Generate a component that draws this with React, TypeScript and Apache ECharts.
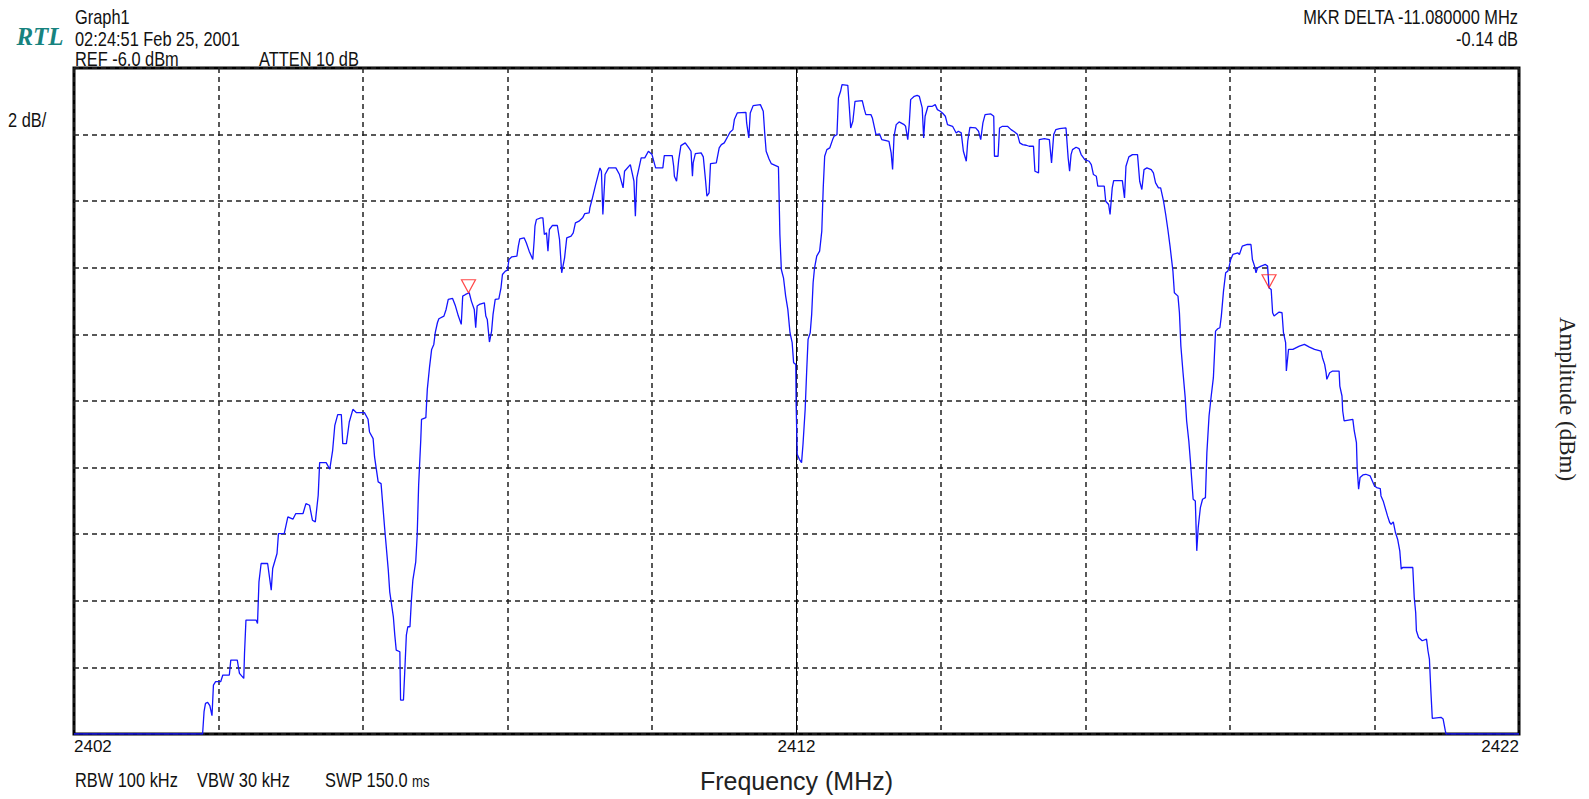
import React, { useEffect, useRef } from "react";
import * as echarts from "echarts";

// Frequency (MHz) and amplitude (dBm) of the trace
const freqMHz: number[] = [
  2402.0, 2403.78, 2403.8, 2403.82, 2403.85, 2403.88, 2403.91, 2403.93, 2403.96, 2404.03,
  2404.06, 2404.15, 2404.17, 2404.26, 2404.29, 2404.35, 2404.36, 2404.38, 2404.52, 2404.54,
  2404.56, 2404.59, 2404.68, 2404.73, 2404.75, 2404.81, 2404.83, 2404.91, 2404.96, 2405.03,
  2405.07, 2405.17, 2405.21, 2405.26, 2405.3, 2405.34, 2405.38, 2405.4, 2405.49, 2405.54,
  2405.58, 2405.61, 2405.65, 2405.7, 2405.72, 2405.77, 2405.81, 2405.86, 2405.91, 2406.02,
  2406.07, 2406.09, 2406.14, 2406.16, 2406.21, 2406.25, 2406.3, 2406.35, 2406.37, 2406.42,
  2406.44, 2406.46, 2406.51, 2406.52, 2406.56, 2406.58, 2406.6, 2406.62, 2406.65, 2406.67,
  2406.69, 2406.73, 2406.75, 2406.77, 2406.8, 2406.81, 2406.87, 2406.89, 2406.92, 2406.95,
  2406.98, 2407.0, 2407.03, 2407.05, 2407.12, 2407.15, 2407.18, 2407.24, 2407.28, 2407.32,
  2407.36, 2407.38, 2407.42, 2407.47, 2407.5, 2407.54, 2407.56, 2407.58, 2407.61, 2407.68,
  2407.7, 2407.72, 2407.75, 2407.78, 2407.8, 2407.83, 2407.88, 2407.91, 2407.93, 2407.97,
  2408.0, 2408.02, 2408.06, 2408.13, 2408.15, 2408.17, 2408.23, 2408.26, 2408.3, 2408.35,
  2408.37, 2408.38, 2408.4, 2408.46, 2408.49, 2408.51, 2408.54, 2408.56, 2408.58, 2408.62,
  2408.69, 2408.72, 2408.75, 2408.79, 2408.82, 2408.88, 2408.91, 2408.94, 2408.99, 2409.04,
  2409.07, 2409.13, 2409.14, 2409.17, 2409.22, 2409.28, 2409.3, 2409.32, 2409.35, 2409.4,
  2409.5, 2409.55, 2409.6, 2409.62, 2409.7, 2409.75, 2409.77, 2409.79, 2409.85, 2409.9,
  2409.95, 2410.0, 2410.05, 2410.1, 2410.15, 2410.17, 2410.28, 2410.3, 2410.31, 2410.34,
  2410.37, 2410.4, 2410.46, 2410.51, 2410.54, 2410.56, 2410.57, 2410.6, 2410.68, 2410.71,
  2410.74, 2410.76, 2410.79, 2410.81, 2410.89, 2410.93, 2410.96, 2411.0, 2411.05, 2411.08,
  2411.12, 2411.14, 2411.18, 2411.3, 2411.31, 2411.34, 2411.36, 2411.4, 2411.5, 2411.54,
  2411.56, 2411.58, 2411.62, 2411.65, 2411.75, 2411.76, 2411.77, 2411.79, 2411.82, 2411.85,
  2411.88, 2411.91, 2411.94, 2411.96, 2411.99, 2411.995, 2412.01, 2412.04, 2412.07, 2412.09,
  2412.12, 2412.14, 2412.16, 2412.19, 2412.21, 2412.23, 2412.25, 2412.28, 2412.32, 2412.35,
  2412.37, 2412.39, 2412.42, 2412.46, 2412.5, 2412.52, 2412.56, 2412.58, 2412.61, 2412.63,
  2412.71, 2412.73, 2412.75, 2412.78, 2412.81, 2412.91, 2412.94, 2412.96, 2413.03, 2413.05,
  2413.08, 2413.1, 2413.15, 2413.18, 2413.24, 2413.28, 2413.31, 2413.33, 2413.35, 2413.38,
  2413.42, 2413.49, 2413.51, 2413.54, 2413.56, 2413.58, 2413.63, 2413.67, 2413.7, 2413.74,
  2413.76, 2413.78, 2413.82, 2413.88, 2413.92, 2413.95, 2413.99, 2414.02, 2414.06, 2414.09,
  2414.16, 2414.21, 2414.24, 2414.28, 2414.31, 2414.35, 2414.37, 2414.4, 2414.48, 2414.52,
  2414.55, 2414.58, 2414.61, 2414.69, 2414.73, 2414.74, 2414.79, 2414.81, 2414.85, 2414.92,
  2414.97, 2415.02, 2415.06, 2415.09, 2415.13, 2415.18, 2415.22, 2415.28, 2415.3, 2415.35,
  2415.36, 2415.43, 2415.5, 2415.53, 2415.56, 2415.59, 2415.64, 2415.73, 2415.76, 2415.78,
  2415.8, 2415.82, 2415.87, 2415.91, 2415.94, 2415.99, 2416.05, 2416.08, 2416.11, 2416.15,
  2416.17, 2416.26, 2416.28, 2416.32, 2416.34, 2416.37, 2416.39, 2416.51, 2416.54, 2416.56,
  2416.6, 2416.65, 2416.72, 2416.75, 2416.78, 2416.81, 2416.85, 2416.91, 2416.94, 2416.97,
  2417.01, 2417.04, 2417.08, 2417.11, 2417.14, 2417.17, 2417.21, 2417.23, 2417.28, 2417.3,
  2417.32, 2417.35, 2417.38, 2417.4, 2417.43, 2417.45, 2417.47, 2417.49, 2417.52, 2417.53,
  2417.54, 2417.56, 2417.59, 2417.62, 2417.66, 2417.68, 2417.71, 2417.74, 2417.77, 2417.8,
  2417.83, 2417.86, 2417.88, 2417.91, 2417.94, 2417.97, 2417.99, 2418.01, 2418.04, 2418.11,
  2418.13, 2418.17, 2418.24, 2418.29, 2418.31, 2418.34, 2418.36, 2418.38, 2418.43, 2418.49,
  2418.52, 2418.54, 2418.57, 2418.59, 2418.61, 2418.68, 2418.72, 2418.74, 2418.77, 2418.78,
  2418.81, 2418.87, 2418.96, 2419.03, 2419.1, 2419.17, 2419.26, 2419.28, 2419.31, 2419.33,
  2419.34, 2419.38, 2419.42, 2419.51, 2419.52, 2419.55, 2419.56, 2419.58, 2419.7, 2419.72,
  2419.75, 2419.76, 2419.78, 2419.8, 2419.84, 2419.88, 2419.94, 2419.97, 2420.0, 2420.03,
  2420.08, 2420.09, 2420.12, 2420.16, 2420.18, 2420.21, 2420.23, 2420.26, 2420.29, 2420.32,
  2420.35, 2420.37, 2420.39, 2420.53, 2420.55, 2420.57, 2420.58, 2420.61, 2420.66, 2420.72,
  2420.74, 2420.76, 2420.78, 2420.8, 2420.92, 2420.95, 2420.98, 2420.99, 2422.0,
];

const levelDbm: number[] = [
  -26, -26, -25.33, -25.08, -25.05, -25.15, -25.45, -24.53, -24.43, -24.43,
  -24.23, -24.23, -23.78, -23.78, -24.18, -24.33, -23.58, -22.58, -22.58, -22.68,
  -21.43, -20.88, -20.88, -21.68, -21.03, -20.58, -19.98, -19.98, -19.48, -19.55,
  -19.38, -19.38, -19.08, -19.13, -19.58, -19.63, -18.83, -17.85, -17.85, -18.05,
  -17.48, -16.73, -16.41, -16.41, -17.28, -17.28, -16.63, -16.25, -16.35, -16.35,
  -16.55, -16.93, -17.13, -17.68, -18.43, -18.48, -19.83, -21.08, -21.73, -22.48,
  -23.03, -23.48, -23.53, -24.98, -24.98, -24.03, -23.03, -22.78, -22.78, -21.98,
  -21.38, -20.83, -20.03, -18.53, -17.15, -16.55, -16.5, -15.65, -15.0, -14.45,
  -14.3, -13.95, -13.65, -13.53, -13.45, -13.25, -12.95, -12.92, -13.15, -13.45,
  -13.7, -12.85, -12.8, -12.75, -13.0, -13.25, -13.8, -13.15, -13.1, -13.05,
  -13.45, -13.55, -14.23, -13.9, -13.4, -12.95, -12.93, -12.6, -12.2, -12.1,
  -12.07, -11.75, -11.67, -11.65, -11.35, -11.13, -11.1, -11.25, -11.5, -11.75,
  -11.15, -10.75, -10.55, -10.5, -10.5, -11.0, -10.95, -11.5, -10.85, -10.73,
  -10.73, -11.15, -12.15, -11.7, -11.1, -11.05, -10.95, -10.65, -10.6, -10.5,
  -10.37, -10.35, -10.2, -9.95, -9.5, -9.0, -9.1, -10.4, -9.2, -9.0,
  -9.0, -9.2, -9.6, -9.1, -8.9, -9.4, -10.45, -9.3, -8.7, -8.7,
  -8.5, -8.6, -9.0, -9.0, -9.0, -8.63, -8.63, -8.95, -9.25, -9.4,
  -8.75, -8.33, -8.25, -8.4, -8.5, -9.25, -8.85, -8.57, -8.55, -8.67,
  -9.35, -9.85, -9.75, -8.87, -8.85, -8.4, -8.3, -8.25, -8.05, -7.93,
  -7.85, -7.55, -7.35, -7.33, -7.65, -8.1, -7.35, -7.13, -7.1, -7.3,
  -7.95, -8.5, -8.73, -8.87, -8.97, -9.95, -11.0, -12.05, -12.3, -12.85,
  -13.25, -13.95, -14.25, -14.85, -14.9, -16.1, -17.6, -17.75, -17.85, -17.3,
  -16.25, -15.15, -14.15, -13.95, -13.4, -12.45, -12.0, -11.65, -11.5, -10.9,
  -9.6, -8.65, -8.45, -8.4, -8.15, -8.05, -8.0, -6.9, -6.7, -6.5,
  -6.52, -7.15, -7.8, -7.6, -7.0, -6.98, -7.25, -7.4, -7.4, -7.5,
  -7.8, -8.0, -7.98, -8.15, -8.18, -8.2, -8.55, -9.05, -8.05, -7.7,
  -7.62, -7.7, -7.75, -8.15, -7.7, -6.95, -6.85, -6.82, -6.85, -7.2,
  -8.1, -7.45, -7.15, -7.15, -7.1, -7.25, -7.3, -7.35, -7.45, -7.7,
  -7.75, -7.95, -7.9, -7.95, -8.5, -8.8, -8.2, -7.78, -7.8, -7.9,
  -8.15, -7.65, -7.4, -7.38, -7.45, -8.65, -8.65, -7.8, -7.75, -7.75,
  -7.85, -7.92, -8.0, -8.25, -8.3, -8.32, -8.35, -8.35, -9.1, -9.15,
  -8.15, -8.12, -8.15, -8.85, -8.0, -7.85, -7.82, -7.8, -8.7, -9.1,
  -8.6, -8.45, -8.38, -8.42, -8.6, -8.75, -8.8, -8.9, -9.2, -9.25,
  -9.55, -9.55, -10.0, -10.1, -10.4, -9.6, -9.38, -9.38, -9.9, -8.95,
  -8.67, -8.6, -8.6, -9.4, -9.65, -9.05, -9.0, -9.05, -9.15, -9.45,
  -9.6, -9.6, -10.0, -10.4, -10.85, -11.35, -12.1, -12.75, -12.85, -13.35,
  -14.35, -15.15, -15.9, -16.6, -17.2, -17.75, -18.35, -18.95, -19.0, -19.75,
  -20.5, -19.8, -19.2, -18.95, -18.9, -17.55, -16.45, -15.85, -15.3, -13.9,
  -13.83, -13.8, -13.45, -12.7, -12.15, -12.1, -11.95, -11.75, -11.6, -11.55,
  -11.6, -11.35, -11.3, -11.3, -11.75, -11.95, -12.15, -12.0, -11.95, -11.9,
  -11.95, -12.6, -12.65, -13.35, -13.45, -13.33, -13.35, -13.95, -14.25, -15.1,
  -14.45, -14.45, -14.35, -14.3, -14.38, -14.45, -14.5, -14.7, -14.9, -15.15,
  -15.35, -15.15, -15.1, -15.1, -15.55, -15.85, -16.3, -16.6, -16.55, -16.9,
  -17.25, -18.0, -18.65, -18.3, -18.22, -18.2, -18.25, -18.4, -18.55, -18.6,
  -18.63, -18.85, -19.0, -19.3, -19.45, -19.65, -19.7, -19.63, -19.95, -20.15,
  -20.5, -21.05, -21.0, -21.0, -21.9, -22.35, -22.9, -23.1, -23.2, -23.15,
  -23.5, -23.75, -24.7, -25.53, -25.5, -25.55, -25.9, -26.0, -26.0,
];

// Marker positions (MHz, dBm)
const markerFreq: number[] = [2407.46, 2418.54];
const markerLevel: number[] = [-12.75, -12.6];

// Axis settings and labels
const xMin = 2402;
const xMax = 2422;
const xStep = 2;
const xTickLabels: number[] = [2402, 2412, 2422];
const centerFreq = 2412;
const yMin = -26;
const yMax = -6;
const yStep = 2;

const SANS = "'Liberation Sans', Arial, sans-serif";
const SERIF = "'Liberation Serif', 'Times New Roman', serif";
const NARROW = 0.82;

export default function App() {
  const ref = useRef<HTMLDivElement>(null);

  useEffect(() => {
    if (!ref.current) return;
    const chart = echarts.init(ref.current, undefined, { renderer: "svg" });
    const traceData = freqMHz.map((f, i) => [f, levelDbm[i]]);
    const markerData = markerFreq.map((f, i) => [f, markerLevel[i]]);

    const txt = (
      text: string,
      x: number,
      y: number,
      size: number,
      align: string = "left"
    ) => ({
      type: "text",
      x,
      y,
      scaleX: NARROW,
      silent: true,
      z: 10,
      style: {
        text,
        fontFamily: SANS,
        fontSize: size,
        fill: "#111",
        textAlign: align,
        align,
        textVerticalAlign: "middle",
        verticalAlign: "middle",
      },
    });

    chart.setOption({
      animation: false,
      backgroundColor: "#ffffff",
      grid: {
        left: 74,
        right: 70,
        top: 68,
        bottom: 65,
        show: true,
        borderColor: "#000",
        borderWidth: 3,
        backgroundColor: "transparent",
      },
      xAxis: {
        type: "value",
        min: xMin,
        max: xMax,
        interval: xStep,
        name: "Frequency (MHz)",
        nameLocation: "middle",
        nameGap: 34,
        nameTextStyle: { fontFamily: SANS, fontSize: 25, color: "#222" },
        axisLine: { show: false },
        axisTick: { show: false },
        splitLine: {
          show: true,
          lineStyle: { color: "#222", type: [5, 4], width: 1.5 },
        },
        axisLabel: {
          show: true,
          showMinLabel: true,
          showMaxLabel: true,
          hideOverlap: false,
          alignMinLabel: "left",
          alignMaxLabel: "right",
          margin: 4,
          fontFamily: SANS,
          fontSize: 17,
          color: "#111",
          formatter: (v: number) =>
            xTickLabels.indexOf(Math.round(v)) >= 0 ? String(Math.round(v)) : "",
        },
      },
      yAxis: {
        type: "value",
        min: yMin,
        max: yMax,
        interval: yStep,
        axisLine: { show: false },
        axisTick: { show: false },
        axisLabel: { show: false },
        splitLine: {
          show: true,
          lineStyle: { color: "#222", type: [5, 4], width: 1.5 },
        },
      },
      series: [
        {
          type: "line",
          data: traceData,
          showSymbol: false,
          symbol: "none",
          lineStyle: { color: "#1414ff", width: 1.3 },
          z: 5,
          markLine: {
            silent: true,
            symbol: "none",
            label: { show: false },
            lineStyle: { color: "#000", type: "solid", width: 1 },
            data: [{ xAxis: centerFreq }],
            z: 3,
          },
        },
        {
          type: "scatter",
          data: markerData,
          symbol: "triangle",
          symbolRotate: 180,
          symbolSize: [14, 13],
          symbolOffset: [0, -6.5],
          itemStyle: { color: "rgba(0,0,0,0)", borderColor: "#ff1a1a", borderWidth: 1.2 },
          z: 6,
        },
      ],
      graphic: [
        {
          type: "text",
          x: 40,
          y: 36,
          silent: true,
          style: {
            text: "RTL",
            fontFamily: SERIF,
            fontSize: 25,
            fontStyle: "italic",
            fontWeight: "bold",
            fill: "#17837f",
            textAlign: "center",
            align: "center",
            textVerticalAlign: "middle",
            verticalAlign: "middle",
          },
        },
        txt("Graph1", 75, 16.5, 20),
        txt("02:24:51 Feb 25, 2001", 75, 38.5, 20),
        txt("REF -6.0 dBm", 75, 58.5, 20),
        txt("ATTEN 10 dB", 259, 58.5, 20),
        txt("MKR DELTA -11.080000 MHz", 1518, 16.5, 20, "right"),
        txt("-0.14 dB", 1518, 38.5, 20, "right"),
        txt("2 dB/", 8, 120, 20),
        txt("RBW 100 kHz", 75, 780, 20),
        txt("VBW 30 kHz", 197, 780, 20),
        txt("SWP 150.0", 325, 780, 20),
        txt("ms", 412, 781.5, 16),
        {
          type: "text",
          x: 1567,
          y: 399,
          rotation: -Math.PI / 2,
          silent: true,
          style: {
            text: "Amplitude (dBm)",
            fontFamily: SERIF,
            fontSize: 23,
            fill: "#222",
            textAlign: "center",
            align: "center",
            textVerticalAlign: "middle",
            verticalAlign: "middle",
          },
        },
      ],
    });

    return () => {
      chart.dispose();
    };
  }, []);

  return (
    <div
      ref={ref}
      style={{ position: "fixed", left: 0, top: 0, width: 1589, height: 799, background: "#fff" }}
    />
  );
}
